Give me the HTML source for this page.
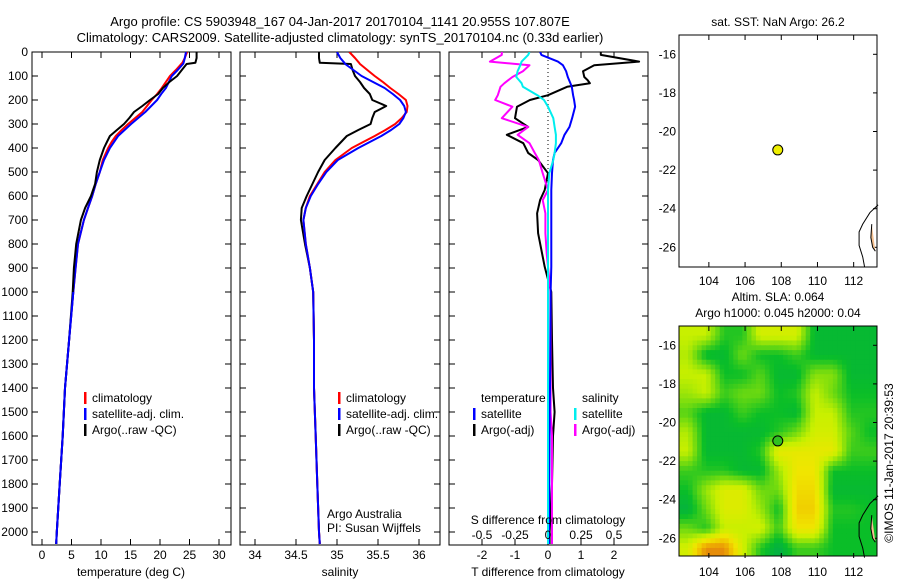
<!DOCTYPE html>
<html><head><meta charset="utf-8"><style>
body{margin:0;background:#fff}
svg{display:block;font-family:"Liberation Sans",sans-serif;font-size:12px}
</style></head><body>
<svg id="fig" width="900" height="580" viewBox="0 0 900 580">
<defs>
<clipPath id="mapclip"><rect x="679" y="326" width="198" height="230"/></clipPath>
<clipPath id="p1c"><rect x="32" y="52" width="199" height="493"/></clipPath>
<clipPath id="p2c"><rect x="240" y="52" width="200" height="493"/></clipPath>
<clipPath id="p3c"><rect x="449" y="52" width="199" height="493"/></clipPath>
</defs>
<text x="340" y="26" text-anchor="middle" font-size="13">Argo profile: CS 5903948_167 04-Jan-2017 20170104_1141 20.955S 107.807E</text>
<text x="340" y="42" text-anchor="middle" font-size="13">Climatology: CARS2009. Satellite-adjusted climatology: synTS_20170104.nc (0.33d earlier)</text>
<g id="p1"></g>
<g id="p2"></g>
<g id="p3"></g>
<g id="m1"></g>
<g id="m2"></g>
<text transform="translate(893,463) rotate(-90)" text-anchor="middle">©IMOS 11-Jan-2017 20:39:53</text>
</svg>
<script>
const depth=[0,25,45,50,75,100,125,150,175,200,225,250,275,300,325,350,375,400,450,500,550,600,650,700,800,900,1000,1200,1400,1600,1800,2000,2050];
const tArgo=[26.2,26.2,26.0,24.5,23.7,22.9,21.6,20.5,19.7,18.3,17.0,15.6,14.8,13.9,12.7,11.5,11.0,10.5,9.8,9.3,9.0,8.3,7.3,6.6,5.8,5.4,5.2,4.6,3.9,3.5,3.0,2.5,2.4];
const tClim=[24.6,24.2,23.8,23.6,22.7,21.7,21.0,20.3,19.5,18.6,17.8,17.0,15.8,14.6,13.5,12.5,11.8,11.2,10.3,9.8,9.1,8.5,7.8,7.1,6.1,5.7,5.3,4.6,3.9,3.5,3.0,2.5,2.4];
const tSat=[24.4,24.2,24.0,23.9,23.0,22.0,21.5,21.0,20.2,19.5,18.5,17.5,16.3,15.1,14.0,12.9,12.2,11.5,10.5,9.8,9.1,8.5,7.8,7.1,6.1,5.7,5.3,4.6,3.9,3.5,3.0,2.5,2.4];
const sArgo=[34.78,34.78,34.79,35.17,35.19,35.22,35.28,35.33,35.40,35.43,35.60,35.46,35.43,35.41,35.26,35.12,35.05,34.98,34.85,34.77,34.70,34.63,34.57,34.56,34.61,34.67,34.71,34.72,34.72,34.74,34.76,34.78,34.79];
const sClim=[35.15,35.22,35.27,35.28,35.37,35.46,35.56,35.65,35.75,35.84,35.86,35.85,35.79,35.71,35.59,35.46,35.32,35.18,34.98,34.85,34.76,34.67,34.62,34.59,34.62,34.67,34.71,34.72,34.72,34.74,34.76,34.78,34.79];
const sSat=[35.00,35.04,35.09,35.10,35.20,35.30,35.44,35.58,35.68,35.77,35.82,35.84,35.81,35.76,35.66,35.54,35.40,35.26,35.01,34.87,34.77,34.68,34.62,34.59,34.62,34.67,34.71,34.72,34.72,34.74,34.76,34.78,34.79];
const dDepth=[0,12,40,55,80,104,117,130,145,180,200,228,276,312,345,380,421,450,505,575,617,672,755,840,895,1000,1200,1400,1500,1600,1800,2000,2050];
const dTArgo=[1.6,1.6,2.76,1.4,1.06,1.1,1.2,1.27,0.58,0.0,-0.55,-0.94,-1.0,-0.6,-1.25,-0.75,-0.6,-0.3,0.0,-0.1,-0.24,-0.33,-0.3,-0.18,-0.1,0.1,0.12,0.15,0.2,0.15,0.12,0.05,0.05];
const dTSat=[-0.24,-0.2,0.3,0.45,0.55,0.6,0.64,0.68,0.72,0.76,0.79,0.82,0.73,0.65,0.5,0.4,0.2,0.15,0.12,0.1,0.1,0.1,0.1,0.1,0.1,0.08,0.07,0.06,0.05,0.05,0.04,0.03,0.03];
const dSArgo=[-0.35,-0.35,-0.44,-0.14,-0.19,-0.27,-0.3,-0.33,-0.36,-0.38,-0.4,-0.27,-0.35,-0.15,-0.23,-0.14,-0.1,-0.07,-0.04,0.0,-0.04,-0.02,-0.02,-0.01,0.0,0.02,0.02,0.02,0.02,0.03,0.03,0.03,0.03];
const dSSat=[-0.14,-0.15,-0.2,-0.21,-0.23,-0.24,-0.22,-0.2,-0.19,-0.08,-0.03,0.0,0.04,0.05,0.06,0.06,0.05,0.04,0.01,0.0,0.0,0.0,0.0,0.0,0.0,0.0,0.0,0.0,0.0,0.0,0.0,0.0,0.0];
const depthTicks=[0,100,200,300,400,500,600,700,800,900,1000,1100,1200,1300,1400,1500,1600,1700,1800,1900,2000];
const tTicks=[0,5,10,15,20,25,30];
const sTicks=[34,34.5,35,35.5,36];
const dTTicks=[-2,-1,0,1,2];
const dSTicks=[-0.5,-0.25,0,0.25,0.5];
const dSLabels=["-0.5","-0.25","0","0.25","0.5"];
const lonTicks=[104,106,108,110,112];
const latTicks=[16,18,20,22,24,26];
const argoLon=107.807, argoLat=20.955;
const slaGrid=[
[1.2,1.2,0.5,0.5,1.3,1.3,1.3,0.3,0.3,0.3,0.3],
[1.1,0.3,0.3,0.8,0.4,0.4,0.6,0.3,0.3,0.3,0.3],
[1.2,1.2,0.4,0.4,0.7,0.3,0.3,0.9,0.9,0.3,0.3],
[1.0,1.2,0.6,0.8,0.8,0.4,0.5,1.2,0.8,0.4,0.4],
[0.7,0.3,0.3,0.6,0.4,0.4,0.3,1.2,1.2,0.5,0.5],
[1.1,0.3,0.3,0.3,0.3,0.5,0.8,1.3,1.3,0.7,0.4],
[1.2,0.3,0.3,0.3,0.5,1.5,1.5,1.5,1.5,0.6,0.6],
[0.6,0.5,0.5,0.3,0.3,1.0,1.6,1.6,0.4,0.4,0.4],
[0.4,1.0,1.4,1.4,0.8,0.8,1.7,1.7,0.3,0.3,0.3],
[0.2,0.8,1.4,1.4,1.0,0.4,1.8,1.8,0.5,0.5,0.4],
[0.8,0.5,1.2,1.2,1.3,0.6,1.6,1.6,0.4,0.4,0.4],
[1.3,2.3,2.3,1.3,0.5,0.1,0.6,0.6,0.4,0.4,0.4]];

const NS='http://www.w3.org/2000/svg';
function mk(parent,tag,attrs,txt){const e=document.createElementNS(NS,tag);for(const k in attrs)e.setAttribute(k,attrs[k]);if(txt!==undefined)e.textContent=txt;parent.appendChild(e);return e;}
const yD=d=>52+d*0.24;
const xT=t=>42+t*5.9;
const xS=s=>255+(s-34)*82;
const xDT=v=>548+v*33;
const xDS=v=>548+v*132;

function frame(g,x0,x1,name){
  const r=mk(g,'rect',{x:x0,y:52,width:x1-x0,height:493,fill:'none',stroke:'#000','stroke-width':1});
  
  
  depthTicks.forEach(d=>{
    const l1=mk(g,'line',{x1:x0,x2:x0+6,y1:yD(d),y2:yD(d),stroke:'#000'});
    
    
    const l2=mk(g,'line',{x1:x1,x2:x1-6,y1:yD(d),y2:yD(d),stroke:'#000'});
    
    
  });
}
function xticks(g,ticks,labels,fx,y,name){
  ticks.forEach((t,i)=>{
    const x=fx(t);
    const a=mk(g,'line',{x1:x,x2:x,y1:545,y2:539,stroke:'#000'});
    
    
    const b=mk(g,'line',{x1:x,x2:x,y1:52,y2:58,stroke:'#000'});
    
    
    const tx=mk(g,'text',{x:x,y:y,'text-anchor':'middle'},labels[i]);
    
    
  });
}
function line(g,xs,ds,fx,color,clip,name){
  const pts=xs.map((v,i)=>fx(v).toFixed(1)+','+yD(ds[i]).toFixed(1)).join(' ');
  const p=mk(g,'polyline',{points:pts,fill:'none',stroke:color,'stroke-width':2,'clip-path':'url(#'+clip+')','stroke-linejoin':'round'});
  
  
}
function txt(g,x,y,s,name,anchor){
  const t=mk(g,'text',{x:x,y:y,'text-anchor':anchor||'start'},s);
  
  
  return t;
}
function legend(g,x,y,color,s,name){
  const r=mk(g,'rect',{x:x,y:y-10,width:2.5,height:12,fill:color});
  
  
  txt(g,x+8,y,s,name);
}

// Panel 1
const p1=document.getElementById('p1');
frame(p1,32,231,'temperature');
depthTicks.forEach(d=>txt(p1,28,yD(d)+4,String(d),'depth-tick-label','end'));
xticks(p1,tTicks,tTicks.map(String),xT,559,'temperature');
txt(p1,131,576,'temperature (deg C)','temperature-axis-title','middle');
line(p1,tClim,depth,xT,'#f00','p1c','temperature-climatology-line');
line(p1,tSat,depth,xT,'#00f','p1c','temperature-satellite-line');
line(p1,tArgo,depth,xT,'#000','p1c','temperature-argo-line');
line(p1,tSat.slice(26),depth.slice(26),xT,'#00f','p1c','temperature-satellite-line-deep');
legend(p1,84,402,'#f00','climatology','legend-climatology');
legend(p1,84,418,'#00f','satellite-adj. clim.','legend-satellite');
legend(p1,84,434,'#000','Argo(..raw -QC)','legend-argo');

// Panel 2
const p2=document.getElementById('p2');
frame(p2,240,440,'salinity');
xticks(p2,sTicks,sTicks.map(String),xS,559,'salinity');
txt(p2,340,576,'salinity','salinity-axis-title','middle');
line(p2,sArgo,depth,xS,'#000','p2c','salinity-argo-line');
line(p2,sClim,depth,xS,'#f00','p2c','salinity-climatology-line');
line(p2,sSat,depth,xS,'#00f','p2c','salinity-satellite-line');
legend(p2,338,402,'#f00','climatology','legend-climatology');
legend(p2,338,418,'#00f','satellite-adj. clim.','legend-satellite');
legend(p2,338,434,'#000','Argo(..raw -QC)','legend-argo');
txt(p2,327,518,'Argo Australia','float-owner');
txt(p2,327,532,'PI: Susan Wijffels','float-pi');

// Panel 3
const p3=document.getElementById('p3');
frame(p3,449,648,'difference');
const zl=mk(p3,'line',{x1:548,x2:548,y1:52,y2:545,stroke:'#000','stroke-dasharray':'1,3'});


xticks(p3,dTTicks,dTTicks.map(String),xDT,559,'t-difference');
txt(p3,548,576,'T difference from climatology','t-difference-axis-title','middle');
line(p3,dTArgo,dDepth,xDT,'#000','p3c','t-difference-argo-line');
line(p3,dSArgo,dDepth,xDS,'#f0f','p3c','s-difference-argo-line');
line(p3,dTSat,dDepth,xDT,'#00f','p3c','t-difference-satellite-line');
line(p3,dSSat,dDepth,xDS,'#0ee','p3c','s-difference-satellite-line');
dSTicks.forEach((v,i)=>txt(p3,xDS(v),539,dSLabels[i],'s-difference-tick-label','middle'));
txt(p3,548,524,'S difference from climatology','s-difference-axis-title','middle');
txt(p3,481,402,'temperature','legend-temperature-heading');
legend(p3,473,418,'#00f','satellite','legend-t-satellite');
legend(p3,473,434,'#000','Argo(-adj)','legend-t-argo');
txt(p3,582,402,'salinity','legend-salinity-heading');
legend(p3,574,418,'#0ee','satellite','legend-s-satellite');
legend(p3,574,434,'#f0f','Argo(-adj)','legend-s-argo');

// Maps
function mapAxes(g,top,name){
  const lx=lon=>679+(lon-102.35)*18.1;
  const ly=lat=>top+(lat-15)*19.3;
  lonTicks.forEach(l=>{
    const a=mk(g,'line',{x1:lx(l),x2:lx(l),y1:top,y2:top+5,stroke:'#000'});
    
    
    const b=mk(g,'line',{x1:lx(l),x2:lx(l),y1:top+232,y2:top+227,stroke:'#000'});
    
    
    txt(g,lx(l),top+250,String(l),name+'-lon-label','middle');
  });
  latTicks.forEach(l=>{
    const a=mk(g,'line',{x1:873,x2:877,y1:ly(l),y2:ly(l),stroke:'#000'});
    
    
    txt(g,676,ly(l)+4,'-'+l,name+'-lat-label','end');
  });
  return {lx,ly};
}
function coast(g,top,name){
  const lx=lon=>679+(lon-102.35)*18.1, ly=lat=>top+(lat-15)*19.3;
  const c=[[113.35,23.8],[112.9,24.2],[112.5,24.8],[112.3,25.2],[112.3,25.9],[112.5,26.5],[112.6,27]];
  const p=mk(g,'polyline',{points:c.map(q=>lx(q[0])+','+ly(q[1])).join(' '),fill:'none',stroke:'#000','stroke-width':1});
  
  
  const c2=[[113.0,24.8],[112.95,25.5],[113.05,26],[113.2,26.2]];
  const q=mk(g,'polyline',{points:c2.map(q=>lx(q[0])+','+ly(q[1])).join(' '),fill:'#f4c090',stroke:'#000','stroke-width':1});
  
  
}
const m1=document.getElementById('m1');
txt(m1,778,26,'sat. SST: NaN Argo: 26.2','sst-map-title','middle');
const r1=mk(m1,'rect',{x:679,y:35,width:198,height:232,fill:'#fff',stroke:'#000'});


const a1=mapAxes(m1,35,'sst-map');
coast(m1,35,'sst-map');
const d1=mk(m1,'circle',{cx:a1.lx(argoLon),cy:a1.ly(argoLat),r:5,fill:'#ee0',stroke:'#000'});



const m2=document.getElementById('m2');
txt(m2,778,301,'Altim. SLA: 0.064','sla-map-title','middle');
txt(m2,778,317,'Argo h1000: 0.045 h2000: 0.04','sla-map-subtitle','middle');
const stops=[[0,[0,170,80]],[0.4,[10,190,40]],[0.8,[110,218,16]],[1.2,[200,240,0]],[1.6,[240,230,0]],[2.0,[240,184,0]],[2.5,[224,112,16]]];
function cmap(v){for(let i=1;i<stops.length;i++){if(v<=stops[i][0]||i==stops.length-1){const a=stops[i-1],b=stops[i];const f=Math.max(0,Math.min(1,(v-a[0])/(b[0]-a[0])));const c=a[1].map((x,k)=>Math.round(x+(b[1][k]-x)*f));return 'rgb('+c.join(',')+')';}}}
const hg=mk(m2,'g',{'clip-path':'url(#mapclip)'});


const lx2=lon=>679+(lon-102.35)*18.1, ly2=lat=>326+(lat-15)*19.3;
const nR=slaGrid.length, nC=slaGrid[0].length;
function sample(lon,lat){
  // grid cell centres at lon 102.85+ci, lat 15.5+ri (bilinear shading)
  let fc=Math.max(0,Math.min(nC-1,lon-102.85)), fr=Math.max(0,Math.min(nR-1,lat-15.5));
  const c0=Math.floor(fc), r0=Math.floor(fr), c1=Math.min(nC-1,c0+1), r1=Math.min(nR-1,r0+1);
  const tx=fc-c0, ty=fr-r0;
  const a=slaGrid[r0][c0]*(1-tx)+slaGrid[r0][c1]*tx, b=slaGrid[r1][c0]*(1-tx)+slaGrid[r1][c1]*tx;
  return a*(1-ty)+b*ty;
}
const sub=4;
for(let ri=0;ri<nR*sub;ri++){for(let ci=0;ci<nC*sub;ci++){
  const lon=102.35+(ci+0.5)/sub, lat=15+(ri+0.5)/sub;
  const x0=lx2(102.35+ci/sub), y0=ly2(15+ri/sub);
  const c=mk(hg,'rect',{x:x0.toFixed(2),y:y0.toFixed(2),width:(18.1/sub+0.6).toFixed(2),height:(19.3/sub+0.6).toFixed(2),fill:cmap(sample(lon,lat))});
  
  
}}
const r2=mk(m2,'rect',{x:679,y:326,width:198,height:230,fill:'none',stroke:'#000'});


const a2=mapAxes(m2,326,'sla-map');
coast(m2,326,'sla-map');
const d2=mk(m2,'circle',{cx:a2.lx(argoLon),cy:a2.ly(argoLat),r:5,fill:'#30c020',stroke:'#000'});


</script>
</body></html>
